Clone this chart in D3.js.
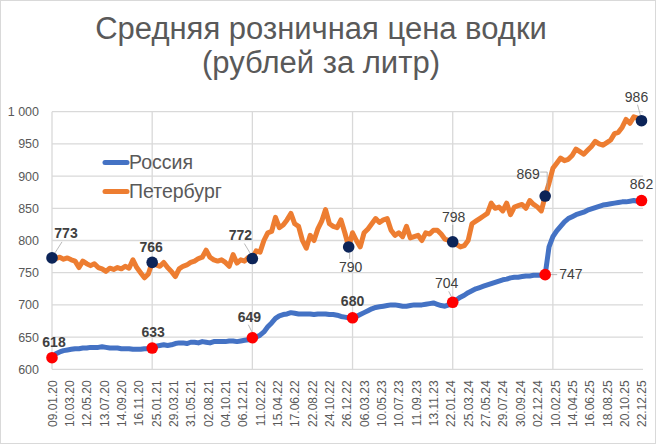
<!DOCTYPE html>
<html>
<head>
<meta charset="utf-8">
<script src="https://cdn.jsdelivr.net/npm/d3@7"></script>
<style>
  body { margin: 0; background: #fff; }
  svg text { font-family: "Liberation Sans", Arial, sans-serif; }
</style>
</head>
<body>
<svg id="chart"></svg>
<script>
// x-axis labels, one every 9 weeks
const dateLabels = [
  '09.01.20','10.03.20','12.05.20','13.07.20','14.09.20','16.11.20','25.01.21',
  '29.03.21','31.05.21','02.08.21','04.10.21','06.12.21','11.02.22','15.04.22',
  '17.06.22','22.08.22','24.10.22','26.12.22','06.03.23','10.05.23','10.07.23',
  '11.09.23','13.11.23','22.01.24','25.03.24','27.05.24','29.07.24','30.09.24',
  '02.12.24','10.02.25','14.04.25','16.06.25','18.08.25','20.10.25','22.12.25'
];

// prices, one value every 2 weeks
const spb = [
  773,772,774,771,773,770,768,758,768,764,761,764,758,756,752,757,755,758,756,760,757,770,758,750,742,748,766,
  762,760,766,758,752,744,756,760,762,766,768,772,774,785,774,770,768,770,766,760,778,765,770,768,774,772,
  784,782,800,812,814,836,820,824,832,842,826,822,800,788,808,800,818,830,848,826,822,820,832,812,790,812,
  800,790,812,818,826,834,828,832,834,816,808,812,806,822,804,806,808,800,812,810,816,816,810,802,800,798,
  794,790,792,800,826,830,834,838,842,858,850,852,846,858,840,852,854,856,850,862,856,852,846,869,
  889,912,920,928,924,926,932,942,938,934,940,946,954,950,948,952,956,966,968,976,988,982,992,990,986
];
const russia = [
  618,624,627,629,630,631,632,632,633,633,634,634,634,635,634,633,633,633,632,632,632,631,631,631,632,632,633,
  636,637,638,637,638,640,641,641,640,642,642,641,643,642,641,643,643,643,643,644,644,643,644,645,646,649,
  650,653,658,666,672,679,683,685,686,688,687,686,686,686,686,685,686,686,686,685,685,684,682,681,680,680,
  682,685,688,691,694,696,697,698,699,700,700,699,698,698,699,700,700,700,701,702,703,701,699,698,700,704,
  708,712,715,719,722,725,727,729,731,733,735,737,739,740,742,743,743,744,745,745,746,746,746,747,
  790,806,815,822,829,834,837,840,842,844,847,849,851,853,855,856,857,858,859,860,860,861,862,861,862
];

// points that carry a marker and a value label (indexes into the series)
const spbMarks = [0, 26, 52, 77, 104, 128, 153];
const russiaMarks = [0, 26, 52, 78, 104, 128, 153];

const yTicks = [600, 650, 700, 750, 800, 850, 900, 950, 1000];

const W = 656, H = 445;
const margin = {left: 52, right: 14.5, top: 111.7, bottom: 75.7};
const gray = '#595959';

const svg = d3.select('#chart').attr('width', W).attr('height', H);

svg.append('rect')
  .attr('x', 0.5).attr('y', 0.5)
  .attr('width', W - 1).attr('height', H - 2)
  .attr('fill', '#fff').attr('stroke', '#d9d9d9');

const x = d3.scaleLinear().domain([0, 306]).range([margin.left, W - margin.right]);
const y = d3.scaleLinear().domain([600, 1000]).range([H - margin.bottom, margin.top]);
const plotRight = 643;

// title
const title = svg.append('text')
  .attr('x', 321).attr('text-anchor', 'middle')
  .attr('fill', gray).style('font-size', '31px');
title.append('tspan').attr('x', 321).attr('y', 39).text('Средняя розничная цена водки');
title.append('tspan').attr('x', 321).attr('y', 73).text('(рублей за литр)');

// grid
svg.append('g').selectAll('line')
  .data(yTicks).join('line')
  .attr('x1', margin.left).attr('x2', plotRight)
  .attr('y1', d => y(d)).attr('y2', d => y(d))
  .attr('stroke', '#d9d9d9').attr('stroke-width', 1.3);

svg.append('g').selectAll('line')
  .data(d3.range(0, 307, 52)).join('line')
  .attr('x1', d => x(d)).attr('x2', d => x(d))
  .attr('y1', y(600)).attr('y2', y(1000))
  .attr('stroke', '#d9d9d9').attr('stroke-width', 1.3);

// axes
const ruFormat = d3.formatLocale({decimal: ',', thousands: ' ', grouping: [3], currency: ['', '']}).format(',');

const yAxis = svg.append('g')
  .attr('transform', `translate(${margin.left},0)`)
  .call(d3.axisLeft(y).tickValues(yTicks).tickSize(0).tickPadding(13).tickFormat(ruFormat));
yAxis.select('.domain').remove();
yAxis.selectAll('text').attr('fill', gray).style('font-size', '12.5px');

const xAxis = svg.append('g')
  .attr('transform', `translate(0,${y(600)})`)
  .call(d3.axisBottom(x).tickValues(d3.range(0, 307, 9)).tickSize(0).tickFormat((d, i) => dateLabels[i]));
xAxis.select('.domain').remove();
xAxis.selectAll('text')
  .attr('fill', gray).style('font-size', '12px')
  .attr('y', 0).attr('x', -11).attr('dy', '0.35em')
  .attr('transform', 'rotate(-90)')
  .style('text-anchor', 'end');

// lines
const line = d3.line()
  .x((d, i) => x(i * 2))
  .y(d => y(d));

svg.append('path')
  .attr('d', line(spb))
  .attr('fill', 'none').attr('stroke', '#ed7d31')
  .attr('stroke-width', 5).attr('stroke-linejoin', 'round');

svg.append('path')
  .attr('d', line(russia))
  .attr('fill', 'none').attr('stroke', '#4472c4')
  .attr('stroke-width', 5).attr('stroke-linejoin', 'round');

// value labels: offsets from the marker [dx, dy, anchor, leader]
const spbLayout = [
  [14, -20, 'middle', [[10, -16], [3, -5]]],
  [-1, -10, 'middle', null],
  [-12, -19, 'middle', [[-8, -15], [-2, -5]]],
  [2, 25, 'middle', [[1, 6], [1, 12]]],
  [1, -20, 'middle', [[0, -17], [0, -6]]],
  [-17, -17, 'middle', [[-5, -24], [2, -24], [2, -6]]],
  [-5, -19, 'middle', [[-4, -16], [-1, -5]]]
];
const russiaLayout = [
  [2, -11, 'middle', null],
  [1, -11, 'middle', null],
  [-3, -16, 'middle', [[-4, -13], [0, -5]]],
  [0, -12, 'middle', null],
  [-6, -14, 'middle', [[-4, -11], [-1, -5]]],
  [14, 4, 'start', [[5, 0], [12, 0]]],
  [0, -12, 'middle', null]
];

function drawMarks(series, marks, layout, color, weightFn) {
  const g = svg.append('g');
  marks.forEach((k, j) => {
    const cx = x(k * 2), cy = y(series[k]);
    const [dx, dy, anchor, leader] = layout[j];
    if (leader) {
      g.append('path')
        .attr('d', d3.line()(leader.map(p => [cx + p[0], cy + p[1]])))
        .attr('fill', 'none').attr('stroke', '#a6a6a6').attr('stroke-width', 0.8);
    }
    g.append('circle')
      .attr('cx', cx).attr('cy', cy).attr('r', 5.8)
      .attr('fill', color);
    g.append('text')
      .attr('x', cx + dx).attr('y', cy + dy)
      .attr('text-anchor', anchor)
      .attr('fill', '#404040')
      .style('font-size', '14px')
      .style('font-weight', weightFn(k))
      .text(series[k]);
  });
}

drawMarks(spb, spbMarks, spbLayout, '#0c2458', k => k <= 52 ? 'bold' : 'normal');
drawMarks(russia, russiaMarks, russiaLayout, '#ff0000', k => k <= 78 ? 'bold' : 'normal');

// legend
const legend = svg.append('g');
[['Россия', '#4472c4', 162.5], ['Петербург', '#ed7d31', 191.5]].forEach(([name, color, ly]) => {
  legend.append('line')
    .attr('x1', 105).attr('x2', 127)
    .attr('y1', ly).attr('y2', ly)
    .attr('stroke', color).attr('stroke-width', 5).attr('stroke-linecap', 'round');
  legend.append('text')
    .attr('x', 129).attr('y', ly).attr('dy', '0.35em')
    .attr('fill', gray).style('font-size', '19.5px')
    .text(name);
});
</script>
</body>
</html>
